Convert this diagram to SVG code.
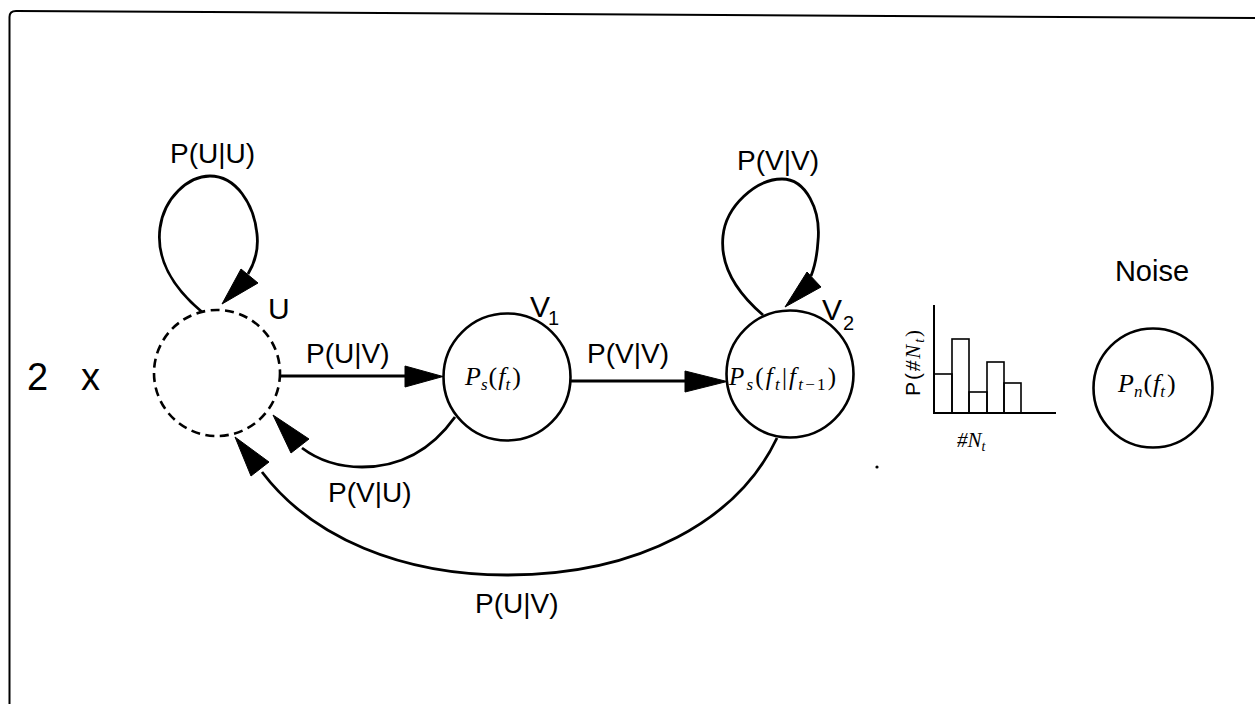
<svg xmlns="http://www.w3.org/2000/svg" width="1255" height="705" viewBox="0 0 1255 705">
<style>
.bg{fill:#fff}
.frame{fill:none;stroke:#000;stroke-width:2}
.node{fill:#fff;stroke:#000;stroke-width:2.6}
.dash{fill:none;stroke:#000;stroke-width:2.6;stroke-dasharray:9 5.5}
.edge{fill:none;stroke:#000;stroke-width:2.8}
.head{fill:#000;stroke:#000;stroke-width:1;stroke-linejoin:miter}
.lbl{font-family:"Liberation Sans",Arial,Helvetica,sans-serif;font-size:28px;fill:#000}
.sub{font-family:"Liberation Sans",Arial,Helvetica,sans-serif;font-size:20px;fill:#000}
.big{font-family:"Liberation Sans",Arial,Helvetica,sans-serif;font-size:38px;fill:#000}
.math{font-family:"Liberation Serif","Times New Roman",serif;font-size:26px;fill:#000}
.it{font-style:italic}
.hist{fill:none;stroke:#000;stroke-width:1.6}
.axis{fill:none;stroke:#000;stroke-width:2}
</style>
<rect class="bg" x="0" y="0" width="1255" height="705"/>
<path class="frame" d="M9.5,704 L9.5,17 Q9.5,11 16,11 L1255,18"/>
<text class="big" x="27" y="390">2</text>
<text class="big" x="81" y="390">x</text>

<g id="connectors">
  <g id="loop-UU">
    <path class="edge" d="M202,312 C172,287 156,258 160,228 C164,198 188,176 210,176 C236,176 254,204 257,234 C259,252 254,264 248,274"/>
    <polygon class="head" points="222,304 241,269 258,283"/>
    <text class="lbl" x="170" y="163">P(U|U)</text>
  </g>
  <g id="edge-U-V1">
    <path class="edge" d="M281,376 L408,376"/>
    <polygon class="head" points="443,376.5 405,366 405,387"/>
    <text class="lbl" x="306" y="363">P(U|V)</text>
  </g>
  <g id="edge-V1-V2">
    <path class="edge" d="M571,381 L688,381"/>
    <polygon class="head" points="727,381.5 685,371 685,392"/>
    <text class="lbl" x="587" y="363">P(V|V)</text>
  </g>
  <g id="loop-VV">
    <path class="edge" d="M763,315 C735,291 720,265 723,236 C726,206 756,179 782,179 C806,179 821,210 818,241 C817,257 815,266 811,276"/>
    <polygon class="head" points="785,307 807,272 821,287"/>
    <text class="lbl" x="737" y="170">P(V|V)</text>
  </g>
  <g id="edge-V1-U">
    <path class="edge" d="M455,417 C430,452 398,467 362,467 C338,467 318,460 302,448"/>
    <polygon class="head" points="273,415 291,453 309,439"/>
    <text class="lbl" x="328" y="502">P(V|U)</text>
  </g>
  <g id="edge-V2-U">
    <path class="edge" d="M777,438 C738,520 640,575 507,575 C402,575 312,538 262,472"/>
    <polygon class="head" points="235,437 251,476 269,462"/>
    <text class="lbl" x="475" y="613">P(U|V)</text>
  </g>
</g>

<g id="node-U">
  <circle class="dash" cx="217" cy="373" r="63"/>
  <text class="lbl" x="268" y="319" style="font-size:30px">U</text>
</g>
<g id="node-V1">
  <circle class="node" cx="507" cy="377" r="63.5"/>
  <text class="lbl" x="530" y="317" style="font-size:30px">V</text>
  <text class="sub" x="548" y="325">1</text>
  <text class="math" x="465" y="385"><tspan class="it">P</tspan><tspan class="it" dy="5" font-size="17">s</tspan><tspan dy="-5" dx="1">(</tspan><tspan class="it" dx="1">f</tspan><tspan class="it" dy="5" font-size="17">t</tspan><tspan dy="-5" dx="2">)</tspan></text>
</g>
<g id="node-V2">
  <circle class="node" cx="790" cy="374" r="63.5"/>
  <text class="lbl" x="822" y="320" style="font-size:30px">V</text>
  <text class="sub" x="843" y="330">2</text>
  <text class="math" x="729" y="385" textLength="107" lengthAdjust="spacing" style="font-size:25px"><tspan class="it">P</tspan><tspan class="it" dy="5" font-size="17">s</tspan><tspan dy="-5">(</tspan><tspan class="it">f</tspan><tspan class="it" dy="5" font-size="17">t</tspan><tspan dy="-5">|</tspan><tspan class="it">f</tspan><tspan dy="5" font-size="17"><tspan class="it">t</tspan>−1</tspan><tspan dy="-5">)</tspan></text>
</g>
<g id="histogram">
  <polyline class="axis" points="934,305 934,413 1056,413"/>
  <rect class="hist" x="934" y="374" width="18" height="39"/>
  <rect class="hist" x="952" y="339" width="17" height="74"/>
  <rect class="hist" x="969" y="392" width="18" height="21"/>
  <rect class="hist" x="987" y="362" width="17" height="51"/>
  <rect class="hist" x="1004" y="383" width="17" height="30"/>
  <text class="math" transform="translate(920,396) rotate(-90)" textLength="66" lengthAdjust="spacing" style="font-size:21px"><tspan font-family="Liberation Sans, Arial, sans-serif">P(</tspan><tspan class="it">#N</tspan><tspan class="it" dy="4" font-size="14">t</tspan><tspan dy="-4">)</tspan></text>
  <text class="math" x="957" y="447" style="font-size:21px"><tspan class="it">#N</tspan><tspan class="it" dy="4" font-size="14">t</tspan></text>
</g>
<g id="node-noise">
  <text class="lbl" x="1152" y="281" text-anchor="middle" style="font-size:29px">Noise</text>
  <circle class="node" cx="1153" cy="388" r="59.5"/>
  <text class="math" x="1118" y="392"><tspan class="it">P</tspan><tspan class="it" dy="5" font-size="17">n</tspan><tspan dy="-5" dx="1">(</tspan><tspan class="it" dx="1">f</tspan><tspan class="it" dy="5" font-size="17">t</tspan><tspan dy="-5" dx="2">)</tspan></text>
</g>
<circle cx="877" cy="467" r="1.6" fill="#000"/>
</svg>
